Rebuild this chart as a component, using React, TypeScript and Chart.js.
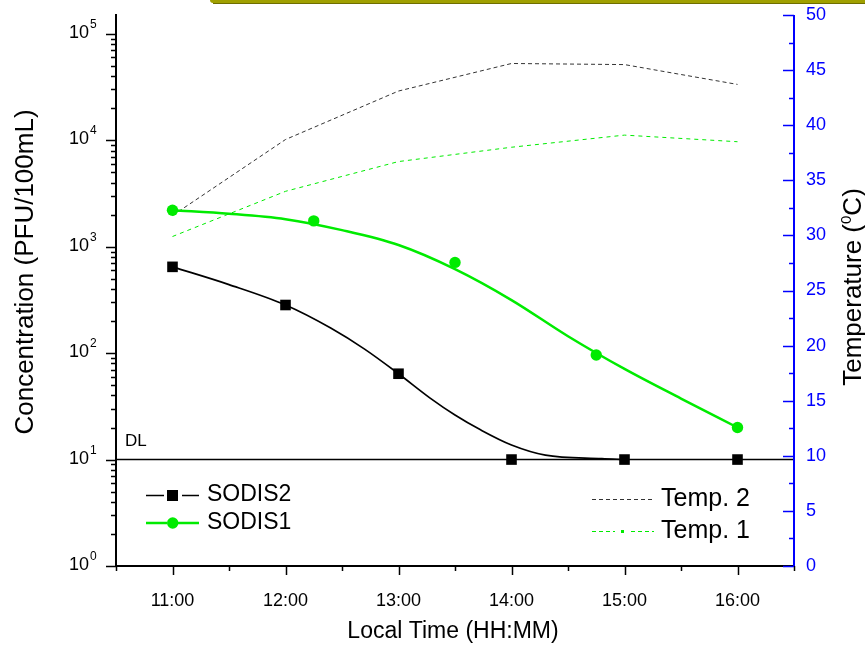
import React, { useEffect, useRef } from 'react';
import { Chart, registerables } from 'chart.js';

Chart.register(...registerables);

// ---- data ----
const hours = [11, 12, 13, 14, 15, 16];
const xTickLabels = ['11:00', '12:00', '13:00', '14:00', '15:00', '16:00'];

const sodis2Times = [11, 12, 13, 14, 15, 16];
const sodis2Values = [646, 283, 64, 10, 10, 10];
const sodis1Times = [11, 12.25, 13.5, 14.75, 16];
const sodis1Values = [2200, 1746, 711, 96, 20];

const fit2Times = [11, 11.5, 12, 12.4, 12.7, 13, 13.28, 13.5, 13.73, 14, 14.3, 14.8, 15];
const fit2Values = [646, 440, 283, 172, 109, 64, 37.8, 26.2, 18.9, 13.7, 11.0, 10.2, 10];
const fit1Times = [11, 11.5, 12, 12.5, 13, 13.5, 14, 14.5, 15, 15.5, 16];
const fit1Values = [2200, 2040, 1811, 1429, 1036, 615, 315, 144, 71, 37.4, 20];

const temp2Values = [31.8, 38.7, 43.1, 45.6, 45.5, 43.7];
const temp1Values = [29.9, 34.0, 36.7, 38.0, 39.1, 38.5];

const detectionLimit = 10;
const dlRange = [10.5, 16.5];
const concDecades = [0, 1, 2, 3, 4, 5];
const tempTicks = [0, 5, 10, 15, 20, 25, 30, 35, 40, 45, 50];

const FONT = "'Liberation Sans', Arial, Helvetica, sans-serif";
const GREEN = 'rgb(0,235,0)';
const BLUE = '#0000ff';

const pts = (xs: number[], ys: number[]) => xs.map((x, i) => ({ x, y: ys[i] }));

const decorPlugin = {
  id: 'decor',
  beforeDraw(chart: any) {
    const ctx = chart.ctx as CanvasRenderingContext2D;
    ctx.save();
    ctx.fillStyle = '#a0a000';
    ctx.beginPath();
    (ctx as any).roundRect(210, -3, 700, 6, 3);
    ctx.fill();
    ctx.fillStyle = '#6e6e00';
    ctx.fillRect(213, 3, 652, 1);
    ctx.restore();
  },
  afterDraw(chart: any) {
    const ctx = chart.ctx as CanvasRenderingContext2D;
    const ca = chart.chartArea;
    const sx = chart.scales.x;
    const sy = chart.scales.y;
    const st = chart.scales.yT;
    ctx.save();

    // axis lines
    ctx.lineWidth = 2;
    ctx.strokeStyle = '#000';
    ctx.beginPath();
    ctx.moveTo(ca.left, ca.top - 1);
    ctx.lineTo(ca.left, ca.bottom + 1);
    ctx.moveTo(ca.left - 1, ca.bottom);
    ctx.lineTo(ca.right, ca.bottom);
    ctx.stroke();
    ctx.strokeStyle = BLUE;
    ctx.beginPath();
    ctx.moveTo(ca.right, ca.top);
    ctx.lineTo(ca.right, ca.bottom + 1);
    ctx.stroke();

    // x ticks
    ctx.strokeStyle = '#000';
    ctx.lineWidth = 1.5;
    ctx.beginPath();
    for (let h = sx.min; h <= sx.max + 1e-6; h += 0.5) {
      const px = Math.round(sx.getPixelForValue(h)) + 0.5;
      const len = Math.abs(h - Math.round(h)) < 1e-6 ? 9 : 5;
      ctx.moveTo(px, ca.bottom);
      ctx.lineTo(px, ca.bottom + len);
    }
    ctx.stroke();
    ctx.fillStyle = '#000';
    ctx.font = `18px ${FONT}`;
    ctx.textAlign = 'center';
    ctx.textBaseline = 'middle';
    hours.forEach((h, i) => {
      ctx.fillText(xTickLabels[i], sx.getPixelForValue(h), 601);
    });

    // left log ticks
    ctx.beginPath();
    concDecades.forEach((d) => {
      const base = Math.pow(10, d);
      const py = Math.round(sy.getPixelForValue(base)) + 0.5;
      ctx.moveTo(ca.left - 10, py);
      ctx.lineTo(ca.left, py);
      if (d < 5) {
        for (let m = 2; m <= 9; m++) {
          const my = Math.round(sy.getPixelForValue(base * m)) + 0.5;
          ctx.moveTo(ca.left - 5, my);
          ctx.lineTo(ca.left, my);
        }
      }
    });
    ctx.stroke();
    concDecades.forEach((d) => {
      const py = sy.getPixelForValue(Math.pow(10, d));
      ctx.textAlign = 'right';
      ctx.textBaseline = 'alphabetic';
      ctx.font = `18px ${FONT}`;
      ctx.fillText('10', 89, py + 4);
      ctx.textAlign = 'left';
      ctx.font = `12px ${FONT}`;
      ctx.fillText(String(d), 90, py - 6);
    });

    // right temperature ticks
    ctx.strokeStyle = BLUE;
    ctx.beginPath();
    for (let t = 0; t <= 50; t += 2.5) {
      const py = Math.round(st.getPixelForValue(t)) + 0.5;
      const len = t % 5 === 0 ? 11 : 5;
      ctx.moveTo(ca.right - len, py);
      ctx.lineTo(ca.right, py);
    }
    ctx.stroke();
    ctx.fillStyle = BLUE;
    ctx.font = `18px ${FONT}`;
    ctx.textAlign = 'left';
    ctx.textBaseline = 'middle';
    tempTicks.forEach((t) => {
      ctx.fillText(String(t), ca.right + 12, st.getPixelForValue(t));
    });

    // titles
    ctx.fillStyle = '#000';
    ctx.textAlign = 'center';
    ctx.textBaseline = 'middle';
    ctx.font = `23px ${FONT}`;
    ctx.fillText('Local Time (HH:MM)', 453, 632);

    ctx.save();
    ctx.translate(26, 272);
    ctx.rotate(-Math.PI / 2);
    ctx.font = `26px ${FONT}`;
    ctx.fillText('Concentration (PFU/100mL)', 0, 0);
    ctx.restore();

    ctx.save();
    ctx.translate(852, 287);
    ctx.rotate(-Math.PI / 2);
    ctx.textAlign = 'left';
    ctx.textBaseline = 'alphabetic';
    const p1 = 'Temperature (';
    const p2 = '0';
    const p3 = 'C)';
    ctx.font = `26px ${FONT}`;
    const w1 = ctx.measureText(p1).width;
    const w3 = ctx.measureText(p3).width;
    ctx.font = `15px ${FONT}`;
    const w2 = ctx.measureText(p2).width;
    let xx = -(w1 + w2 + w3) / 2;
    const base = 9;
    ctx.font = `26px ${FONT}`;
    ctx.fillText(p1, xx, base);
    xx += w1;
    ctx.font = `15px ${FONT}`;
    ctx.fillText(p2, xx, base - 10);
    xx += w2;
    ctx.font = `26px ${FONT}`;
    ctx.fillText(p3, xx, base);
    ctx.restore();

    // DL label
    ctx.font = `17px ${FONT}`;
    ctx.textAlign = 'left';
    ctx.textBaseline = 'middle';
    ctx.fillText('DL', 125, 441);

    // legend 1
    ctx.lineWidth = 1.7;
    ctx.strokeStyle = '#000';
    ctx.beginPath();
    ctx.moveTo(146, 495.5); ctx.lineTo(164, 495.5);
    ctx.moveTo(182, 495.5); ctx.lineTo(199, 495.5);
    ctx.stroke();
    ctx.fillStyle = '#000';
    ctx.fillRect(167, 490, 11, 11);
    ctx.strokeStyle = GREEN;
    ctx.lineWidth = 2.5;
    ctx.beginPath();
    ctx.moveTo(146, 523); ctx.lineTo(167, 523);
    ctx.moveTo(178, 523); ctx.lineTo(199, 523);
    ctx.stroke();
    ctx.fillStyle = GREEN;
    ctx.beginPath();
    ctx.arc(172.7, 523, 5.7, 0, Math.PI * 2);
    ctx.fill();
    ctx.fillStyle = '#000';
    ctx.font = `23px ${FONT}`;
    ctx.fillText('SODIS2', 207, 495);
    ctx.fillText('SODIS1', 207, 523);

    // legend 2
    ctx.lineWidth = 1;
    ctx.strokeStyle = '#333';
    ctx.setLineDash([4, 3]);
    ctx.beginPath();
    ctx.moveTo(592, 499.5); ctx.lineTo(654, 499.5);
    ctx.stroke();
    ctx.strokeStyle = GREEN;
    ctx.beginPath();
    ctx.moveTo(592, 531.5); ctx.lineTo(615, 531.5);
    ctx.moveTo(631, 531.5); ctx.lineTo(654, 531.5);
    ctx.stroke();
    ctx.setLineDash([]);
    ctx.fillStyle = GREEN;
    ctx.fillRect(621, 530, 3, 3);
    ctx.fillStyle = '#000';
    ctx.font = `25px ${FONT}`;
    ctx.fillText('Temp. 2', 661, 499);
    ctx.fillText('Temp. 1', 661, 531);

    ctx.restore();
  },
};

export default function App() {
  const ref = useRef<HTMLCanvasElement | null>(null);

  useEffect(() => {
    document.body.style.margin = '0';
    const canvas = ref.current;
    if (!canvas) return;
    const chart = new Chart(canvas, {
      type: 'line',
      data: {
        datasets: [
          {
            label: 'SODIS2',
            data: pts(sodis2Times, sodis2Values),
            showLine: false,
            pointStyle: 'rect',
            pointRadius: 7.5,
            pointBackgroundColor: '#000',
            pointBorderColor: '#000',
            pointBorderWidth: 0,
            yAxisID: 'y',
          },
          {
            label: 'SODIS1',
            data: pts(sodis1Times, sodis1Values),
            showLine: false,
            pointStyle: 'circle',
            pointRadius: 5.7,
            pointBackgroundColor: GREEN,
            pointBorderColor: GREEN,
            pointBorderWidth: 0,
            yAxisID: 'y',
          },
          {
            label: 'SODIS2 fit',
            data: pts(fit2Times, fit2Values),
            borderColor: '#000',
            borderWidth: 1.7,
            pointRadius: 0,
            cubicInterpolationMode: 'monotone',
            yAxisID: 'y',
          },
          {
            label: 'SODIS1 fit',
            data: pts(fit1Times, fit1Values),
            borderColor: GREEN,
            borderWidth: 2.5,
            pointRadius: 0,
            cubicInterpolationMode: 'monotone',
            yAxisID: 'y',
          },
          {
            label: 'DL',
            data: dlRange.map((x) => ({ x, y: detectionLimit })),
            borderColor: '#000',
            borderWidth: 1.5,
            pointRadius: 0,
            yAxisID: 'y',
          },
          {
            label: 'Temp. 2',
            data: pts(hours, temp2Values),
            borderColor: '#333',
            borderWidth: 1,
            borderDash: [4, 3],
            pointRadius: 0,
            yAxisID: 'yT',
          },
          {
            label: 'Temp. 1',
            data: pts(hours, temp1Values),
            borderColor: GREEN,
            borderWidth: 1,
            borderDash: [4, 4],
            pointRadius: 0,
            yAxisID: 'yT',
          },
        ],
      },
      options: {
        responsive: false,
        animation: false,
        devicePixelRatio: 1,
        layout: { padding: { left: 116, right: 71, top: 15, bottom: 84 } },
        scales: {
          x: { type: 'linear', min: 10.5, max: 16.5, display: false },
          y: { type: 'logarithmic', min: 1, max: 150000, display: false },
          yT: { type: 'linear', min: 0, max: 50, display: false, position: 'right' },
        },
        plugins: {
          legend: { display: false },
          tooltip: { enabled: false },
        },
      },
      plugins: [decorPlugin],
    });
    return () => chart.destroy();
  }, []);

  return (
    <div style={{ width: 865, height: 650, background: '#fff' }}>
      <canvas ref={ref} width={865} height={650} />
    </div>
  );
}
